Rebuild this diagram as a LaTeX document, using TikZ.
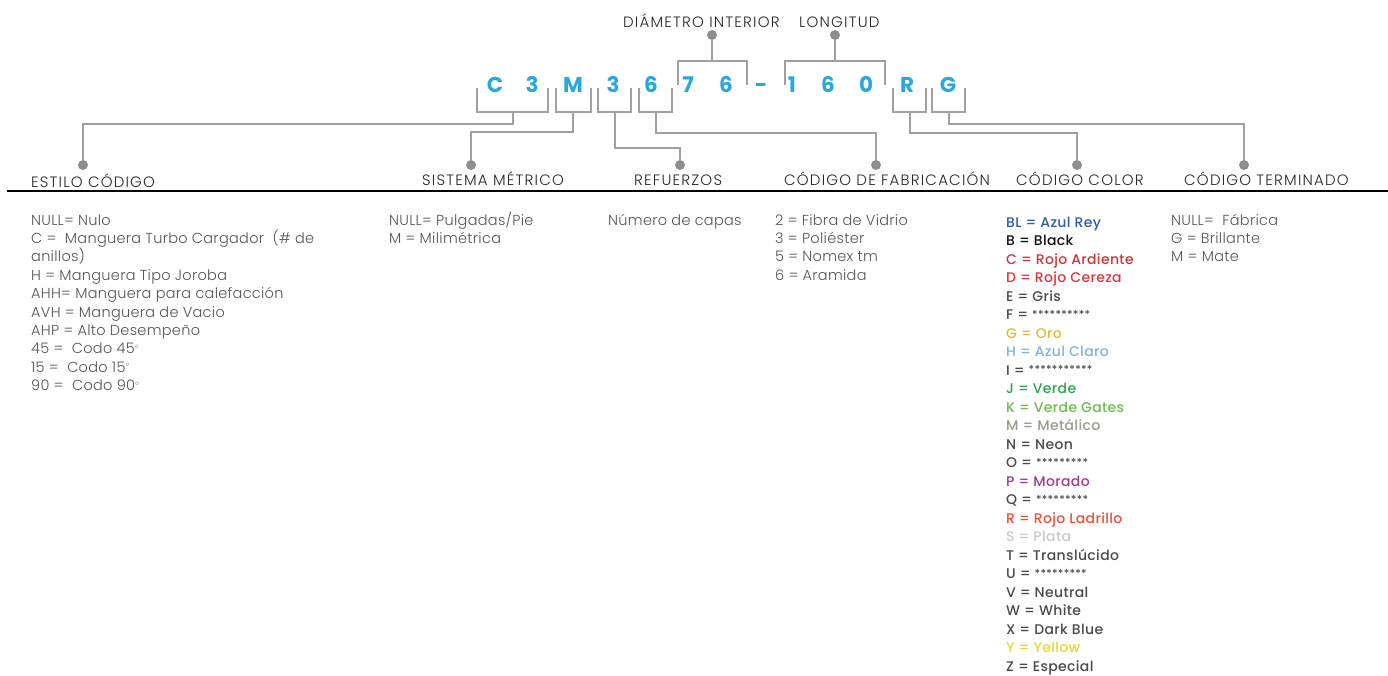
\documentclass[tikz,border=0pt]{standalone}
\usepackage{fontspec}
\setmainfont{Poppins}
\newfontfamily\headf{Poppins Light}[LetterSpace=8]
\newfontfamily\lightf{Poppins Light}[LetterSpace=2]
\newfontfamily\medf{Poppins Medium}[LetterSpace=2.5]
\newcommand{\stars}[1]{\raisebox{1.5pt}{\fontsize{11}{11}\selectfont #1}}
\definecolor{codeblue}{HTML}{2AA7DF}
\definecolor{linec}{HTML}{A0A0A0}
\definecolor{dotc}{HTML}{8E8E8E}
\definecolor{headc}{HTML}{262626}
\definecolor{bodyc}{HTML}{555555}
\definecolor{cBL}{HTML}{2F5DA3}
\definecolor{cB}{HTML}{111111}
\definecolor{cC}{HTML}{C8383B}
\definecolor{cD}{HTML}{E5333D}
\definecolor{cG}{HTML}{E9B92C}
\definecolor{cH}{HTML}{7BB5D9}
\definecolor{cJ}{HTML}{2CA34B}
\definecolor{cK}{HTML}{6DBE4B}
\definecolor{cM}{HTML}{9A9B8C}
\definecolor{cP}{HTML}{A33A8E}
\definecolor{cR}{HTML}{E8513B}
\definecolor{cS}{HTML}{C9C9C9}
\definecolor{cY}{HTML}{E6D72A}
\definecolor{cN}{HTML}{4A4A4A}
\begin{document}
\begin{tikzpicture}[x=1pt,y=-1pt,
  code/.style={text=codeblue, font=\fontsize{21.5}{22}\selectfont\bfseries, inner sep=0, anchor=base},
  head/.style={text=headc, font=\headf\fontsize{15}{16}\selectfont, inner sep=0, anchor=base west},
  body/.style={text=bodyc, font=\lightf\fontsize{14.5}{16}\selectfont, inner sep=0, anchor=base west},
  colr/.style={font=\medf\fontsize{14}{16}\selectfont, inner sep=0, anchor=base west},
  conn/.style={draw=linec, line width=1.5},
  dotn/.style={circle, fill=dotc, minimum size=10, inner sep=0}]
\useasboundingbox (0,0) rectangle (1388,675);

% code letters
\node[code] (lC) at (495,92) {C};
\node[code] (l3a) at (532,92) {3};
\node[code] (lM) at (573,92) {M};
\node[code] (l3b) at (613,92) {3};
\node[code] (l6a) at (651,92) {6};
\node[code] (l7) at (688,92) {7};
\node[code] (l6b) at (726,92) {6};
\node[code] (ldash) at (761,92) {-};
\node[code] (l1) at (792,92) {1};
\node[code] (l6c) at (828,92) {6};
\node[code] (l0) at (866,92) {0};
\node[code] (lR) at (907,92) {R};
\node[code] (lG) at (948,92) {G};

% top labels
\node[head] (tDI) at (623,27) {DIÁMETRO INTERIOR};
\node[head] (tLo) at (799,27) {LONGITUD};
\node[dotn] (dDI) at (712,35) {};
\node[dotn] (dLo) at (835,35) {};
\draw[conn] (678,85) -- (678,61) -- (747,61) -- (747,85);
\draw[conn] (785,85) -- (785,61) -- (885,61) -- (885,85);
\coordinate (sDI) at (712,61);
\coordinate (sLo) at (835,61);
\draw[conn] (sDI) -- (dDI);
\draw[conn] (sLo) -- (dLo);

% bottom brackets
\draw[conn] (477,88) -- (477,112) -- (548,112) -- (548,88);
\draw[conn] (556,88) -- (556,112) -- (591,112) -- (591,88);
\draw[conn] (598,88) -- (598,112) -- (631,112) -- (631,88);
\draw[conn] (639,88) -- (639,112) -- (672,112) -- (672,88);
\draw[conn] (893,88) -- (893,112) -- (926,112) -- (926,88);
\draw[conn] (932,88) -- (932,112) -- (965,112) -- (965,88);
\coordinate (sC3) at (513,112);
\coordinate (sM) at (573,112);
\coordinate (s3) at (615,112);
\coordinate (s6) at (656,112);
\coordinate (sR) at (910,112);
\coordinate (sG) at (949,112);

% dots and headings
\node[dotn] (dEst) at (83,165) {};
\node[dotn] (dSis) at (471,165) {};
\node[dotn] (dRef) at (680,165) {};
\node[dotn] (dFab) at (876,165) {};
\node[dotn] (dCol) at (1077,165) {};
\node[dotn] (dTer) at (1244,165) {};
\draw[conn] (sC3) -- ++(0,12) -| (dEst);
\draw[conn] (sM) -- ++(0,20) -| (dSis);
\draw[conn] (s3) -- ++(0,36) -| (dRef);
\draw[conn] (s6) -- ++(0,21) -| (dFab);
\draw[conn] (sR) -- ++(0,21) -| (dCol);
\draw[conn] (sG) -- ++(0,12) -| (dTer);

\node[head] (hEst) at (31,187) {ESTILO CÓDIGO};
\node[head] (hSis) at (422,185) {SISTEMA MÉTRICO};
\node[head] (hRef) at (634,185) {REFUERZOS};
\node[head] (hFab) at (784,185) {CÓDIGO DE FABRICACIÓN};
\node[head] (hCol) at (1016,185) {CÓDIGO COLOR};
\node[head] (hTer) at (1184,185) {CÓDIGO TERMINADO};
\coordinate (rL) at (7,191);
\coordinate (rR) at (1388,191);
\draw[line width=2, black] (rL) -- (rR);

% column 1
\foreach \t [count=\i] in {NULL= Nulo, C =\ \ Manguera Turbo Cargador\ \ (\# de, anillos), H = Manguera Tipo Joroba, AHH= Manguera para calefacción, AVH = Manguera de Vacio, AHP = Alto Desempeño, 45 =\ \ Codo 45\textsuperscript{\scriptsize$\circ$}, 15 =\ \ Codo 15\textsuperscript{\scriptsize$\circ$}, 90 =\ \ Codo 90\textsuperscript{\scriptsize$\circ$}}
  \node[body] (a\i) at (31,225+18.4*\i-18.4) {\t};
% column 2
\node[body] (b1) at (389,225) {NULL= Pulgadas/Pie};
\node[body] (b2) at (389,243.4) {M = Milimétrica};
% column 3
\node[body] (c1) at (608,225) {Número de capas};
% column 4
\foreach \t [count=\i] in {2 = Fibra de Vidrio, 3 = Poliéster, 5 = Nomex tm, 6 = Aramida}
  \node[body] (f\i) at (775,225+18.4*\i-18.4) {\t};
% column 5 colours
\foreach \t/\c [count=\i] in {BL = Azul Rey/cBL, B = Black/cB, C = Rojo Ardiente/cC, D = Rojo Cereza/cD, E = Gris/cN, F = \stars{**********}/cN, G = Oro/cG, H = Azul Claro/cH, I = \stars{***********}/cN, J = Verde/cJ, K = Verde Gates/cK, M = Metálico/cM, N = Neon/cN, O = \stars{*********}/cN, P = Morado/cP, Q = \stars{*********}/cN, R = Rojo Ladrillo/cR, S = Plata/cS, T = Translúcido/cN, U = \stars{*********}/cN, V = Neutral/cN, W = White/cN, X = Dark Blue/cN, Y = Yellow/cY, Z = Especial/cN}
  \node[colr, text=\c] (k\i) at (1006,227+18.5*\i-18.5) {\t};
% column 6
\node[body] (g1) at (1171,225) {NULL=\ \ Fábrica};
\node[body] (g2) at (1171,243.4) {G = Brillante};
\node[body] (g3) at (1171,261.8) {M = Mate};
\end{tikzpicture}
\end{document}
